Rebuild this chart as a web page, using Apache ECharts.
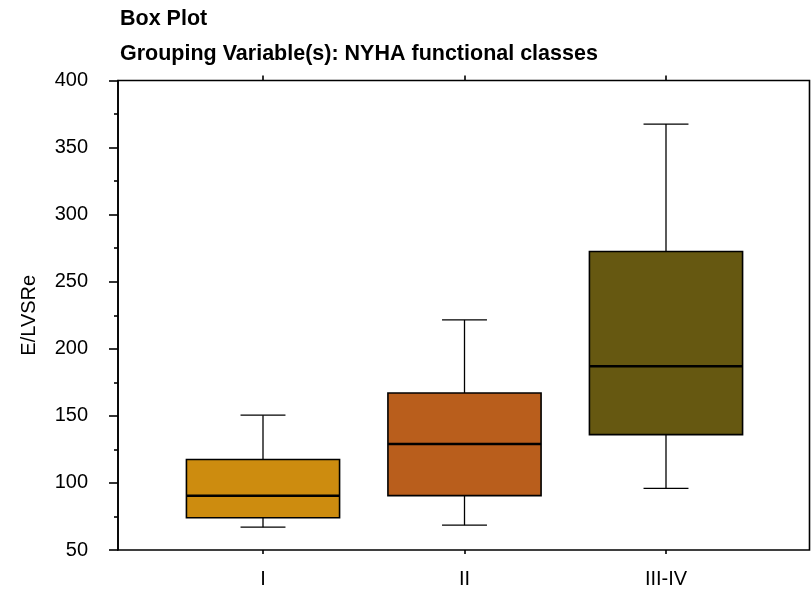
<!DOCTYPE html>
<html>
<head>
<meta charset="utf-8">
<script src="https://cdn.jsdelivr.net/npm/echarts@6/dist/echarts.min.js"></script>
<style>
  html, body { margin: 0; padding: 0; background: #ffffff; }
  #chart { width: 811px; height: 589px; }
</style>
</head>
<body>
<div id="chart"></div>
<script>
// NYHA class groups and their box-plot statistics for E/LVSRe
const categories = ['I', 'II', 'III-IV'];
const whiskerLow = [67, 68.5, 96];
const quartile1 = [74, 90.5, 136];
const medians = [90.5, 129, 187];
const quartile3 = [117.5, 167, 272.5];
const whiskerHigh = [150.5, 221.5, 367.5];
const boxColors = ['#CD8C0F', '#B95E1C', '#665811'];

const FONT = 'Liberation Sans, Arial, Helvetica, sans-serif';

const boxData = categories.map((c, i) => [
  i, whiskerLow[i], quartile1[i], medians[i], quartile3[i], whiskerHigh[i]
]);

function renderBox(params, api) {
  const i = api.value(0);
  const band = api.size([1, 0])[0];
  const boxW = band * 0.76;
  const capW = band * 0.223;
  const lo = api.coord([i, api.value(1)]);
  const q1 = api.coord([i, api.value(2)]);
  const md = api.coord([i, api.value(3)]);
  const q3 = api.coord([i, api.value(4)]);
  const hi = api.coord([i, api.value(5)]);
  const cx = lo[0];
  const thin = { stroke: '#000', lineWidth: 1.3 };
  return {
    type: 'group',
    children: [
      { type: 'line', shape: { x1: cx, y1: q1[1], x2: cx, y2: lo[1] }, style: thin },
      { type: 'line', shape: { x1: cx, y1: q3[1], x2: cx, y2: hi[1] }, style: thin },
      { type: 'line', shape: { x1: cx - capW / 2, y1: lo[1], x2: cx + capW / 2, y2: lo[1] }, style: thin },
      { type: 'line', shape: { x1: cx - capW / 2, y1: hi[1], x2: cx + capW / 2, y2: hi[1] }, style: thin },
      {
        type: 'rect',
        shape: { x: cx - boxW / 2, y: q3[1], width: boxW, height: q1[1] - q3[1] },
        style: { fill: boxColors[params.dataIndex], stroke: '#000', lineWidth: 1.6 }
      },
      {
        type: 'line',
        shape: { x1: cx - boxW / 2, y1: md[1], x2: cx + boxW / 2, y2: md[1] },
        style: { stroke: '#000', lineWidth: 2.5 }
      }
    ]
  };
}

const chart = echarts.init(document.getElementById('chart'), null, { renderer: 'canvas' });

const option = {
  backgroundColor: '#ffffff',
  animation: false,
  title: [
    {
      text: 'Box Plot',
      left: 120, top: 8.5, padding: 0,
      textStyle: { fontFamily: FONT, fontSize: 21.5, fontWeight: 'bold', color: '#000' }
    },
    {
      text: 'Grouping Variable(s): NYHA functional classes',
      left: 120, top: 43.5, padding: 0,
      textStyle: { fontFamily: FONT, fontSize: 21.5, fontWeight: 'bold', color: '#000' }
    }
  ],
  grid: [
    { left: 118, right: 1.5, top: 80.5, bottom: 39, show: true, borderColor: '#000', borderWidth: 1.6, backgroundColor: 'transparent' },
    { left: 162.25, width: 604.5, top: 80.5, bottom: 39 }
  ],
  xAxis: [
    { gridIndex: 0, type: 'value', min: 0, max: 1, show: false },
    {
      gridIndex: 1, type: 'category', data: categories, position: 'bottom',
      axisLine: { show: false },
      axisTick: { show: true, alignWithLabel: true, length: 4, lineStyle: { color: '#000', width: 1.6 } },
      axisLabel: { fontFamily: FONT, fontSize: 20, color: '#000', margin: 19 },
      splitLine: { show: false }
    },
    {
      gridIndex: 1, type: 'category', data: categories, position: 'top',
      axisLine: { show: false },
      axisTick: { show: true, alignWithLabel: true, length: 5, lineStyle: { color: '#000', width: 1.6 } },
      axisLabel: { show: false },
      splitLine: { show: false }
    }
  ],
  yAxis: [
    {
      gridIndex: 0, type: 'value', min: 50, max: 400, interval: 50,
      name: 'E/LVSRe', nameLocation: 'middle', nameGap: 79, nameRotate: 90,
      nameTextStyle: { fontFamily: FONT, fontSize: 20, color: '#000' },
      axisLine: { show: true, lineStyle: { color: '#000', width: 1.6 } },
      axisTick: { show: true, inside: false, length: 9, lineStyle: { color: '#000', width: 1.6 } },
      minorTick: { show: true, splitNumber: 2, length: 4, lineStyle: { color: '#000', width: 1.6 } },
      axisLabel: { fontFamily: FONT, fontSize: 20, color: '#000', margin: 30 },
      splitLine: { show: false }
    },
    { gridIndex: 1, type: 'value', min: 50, max: 400, show: false }
  ],
  series: [
    {
      type: 'custom',
      xAxisIndex: 1,
      yAxisIndex: 1,
      renderItem: renderBox,
      encode: { x: 0, y: [1, 2, 3, 4, 5] },
      data: boxData,
      clip: false
    }
  ]
};

chart.setOption(option);
</script>
</body>
</html>
